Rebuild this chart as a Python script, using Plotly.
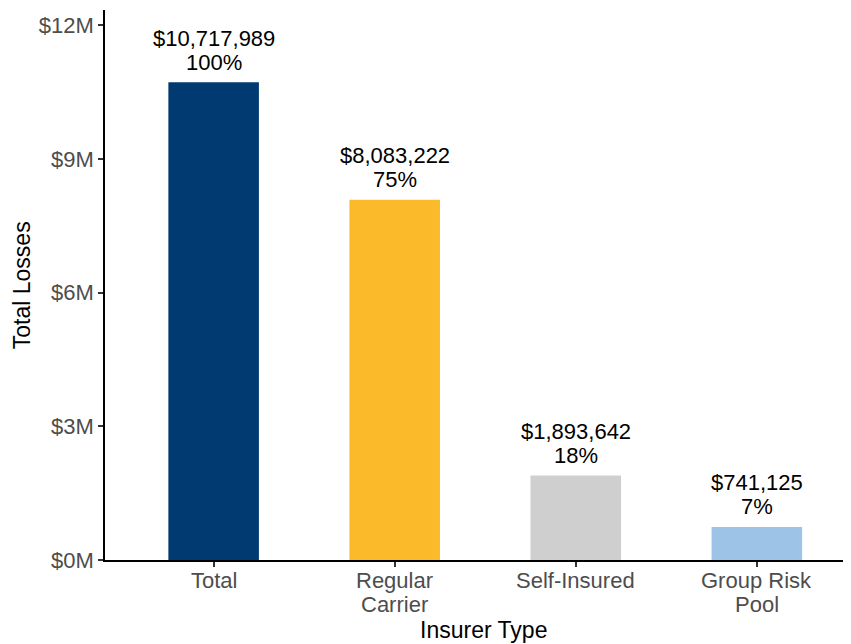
import plotly.graph_objects as go

# data
categories = ["Total", "Regular<br>Carrier", "Self-Insured", "Group Risk<br>Pool"]
losses = [10717989, 8083222, 1893642, 741125]
shares = [100, 75, 18, 7]
bar_colors = ["#003A70", "#FBBA2A", "#D0CFCF", "#9DC3E6"]
tick_vals = [0, 3e6, 6e6, 9e6, 12e6]
tick_text = ["$0M", "$3M", "$6M", "$9M", "$12M"]

FONT = "Liberation Sans, Arial, sans-serif"

fig = go.Figure()
fig.add_trace(go.Bar(x=list(range(len(categories))), y=losses,
                     marker_color=bar_colors, marker_line_width=0,
                     width=0.5, showlegend=False, hoverinfo="y"))

# value + share labels above each bar (one annotation per line, tight spacing)
for i, (v, s) in enumerate(zip(losses, shares)):
    fig.add_annotation(x=i, y=v, text=f"${v:,}", showarrow=False,
                       yanchor="middle", yshift=44,
                       font=dict(family=FONT, size=22, color="black"))
    fig.add_annotation(x=i, y=v, text=f"{s}%", showarrow=False,
                       yanchor="middle", yshift=20,
                       font=dict(family=FONT, size=22, color="black"))

# category labels drawn line by line so the line spacing stays tight
for i, cat in enumerate(categories):
    for k, line in enumerate(cat.split("<br>")):
        fig.add_annotation(x=i, y=0, text=line, showarrow=False,
                           yanchor="middle", yshift=-20 - 24 * k,
                           font=dict(family=FONT, size=22, color="#4D4D4D"))

# axis titles
fig.add_annotation(x=0.508, y=-0.127, xref="paper", yref="paper",
                   text="Insurer Type", showarrow=False,
                   xanchor="center", yanchor="middle",
                   font=dict(family=FONT, size=23, color="black"))
fig.add_annotation(x=-0.111, y=0.5, xref="paper", yref="paper",
                   text="Total Losses", showarrow=False, textangle=-90,
                   xanchor="center", yanchor="middle",
                   font=dict(family=FONT, size=23, color="black"))

fig.update_xaxes(range=[-0.6, 3.52], tickmode="array",
                 tickvals=list(range(len(categories))), showticklabels=False,
                 showline=True, linecolor="black", linewidth=1.5,
                 ticks="outside", ticklen=5, tickcolor="#333333", tickwidth=1.5,
                 showgrid=False, zeroline=False, automargin=False)
fig.update_yaxes(range=[0, 12.34e6], tickmode="array",
                 tickvals=tick_vals, ticktext=tick_text,
                 showline=True, linecolor="black", linewidth=1.5,
                 ticks="outside", ticklen=5, tickcolor="#333333", tickwidth=1.5,
                 tickfont=dict(family=FONT, size=22, color="#4D4D4D"),
                 showgrid=False, zeroline=False, automargin=False)

# page body adds an 8px offset, so margins are shifted to compensate
fig.update_layout(width=851, height=644,
                  margin=dict(l=97, r=8, t=2, b=92),
                  plot_bgcolor="white", paper_bgcolor="white",
                  bargap=0.5)

fig.write_html("out.html")
